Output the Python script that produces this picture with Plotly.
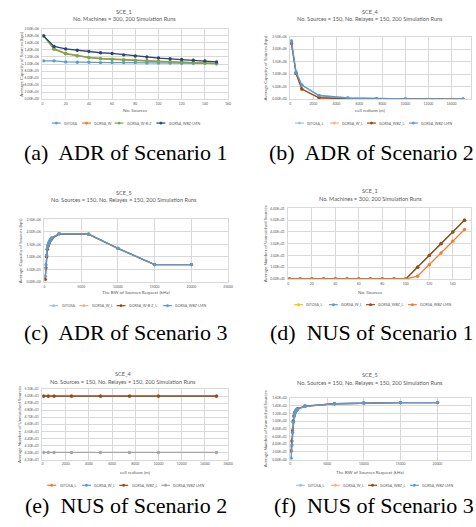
import plotly.graph_objects as go

W, H = 476, 527

# ---------------- data ----------------
# (a) SCE_1 – average capacity vs number of sources
a_x = [1, 10, 20, 30, 40, 50, 60, 70, 80, 90, 100, 110, 120, 130, 140, 150]
a_gitosa = [1.09e6, 1.09e6, 1.06e6, 1.05e6, 1.05e6, 1.04e6, 1.04e6, 1.04e6, 1.04e6, 1.03e6, 1.03e6, 1.03e6, 1.02e6, 1.02e6, 1.02e6, 1.01e6]
a_gorsa_w = [1.80e6, 1.43e6, 1.30e6, 1.24e6, 1.19e6, 1.16e6, 1.14e6, 1.12e6, 1.11e6, 1.10e6, 1.08e6, 1.07e6, 1.06e6, 1.05e6, 1.04e6, 1.02e6]
a_gorsa_wbz = [1.80e6, 1.42e6, 1.29e6, 1.23e6, 1.18e6, 1.15e6, 1.13e6, 1.11e6, 1.10e6, 1.09e6, 1.07e6, 1.06e6, 1.05e6, 1.04e6, 1.03e6, 1.01e6]
a_lmn = [1.80e6, 1.50e6, 1.43e6, 1.39e6, 1.36e6, 1.32e6, 1.30e6, 1.26e6, 1.23e6, 1.20e6, 1.17e6, 1.15e6, 1.13e6, 1.11e6, 1.09e6, 1.06e6]

# (b) SCE_4 – average capacity vs cell radius
b_x = [100, 500, 1000, 2500, 5000, 7500, 10000, 15000]
b_gitosa = [2.33e6, 1.08e6, 0.57e6, 0.15e6, 0.05e6, 0.02e6, 0.01e6, 0.0]
b_gorsa_w = [2.23e6, 1.03e6, 0.41e6, 0.06e6, 0.02e6, 0.01e6, 0.005e6, 0.0]
b_gorsa_wbz = [2.23e6, 1.03e6, 0.41e6, 0.06e6, 0.02e6, 0.01e6, 0.005e6, 0.0]
b_lmn = [2.33e6, 1.08e6, 0.57e6, 0.15e6, 0.05e6, 0.02e6, 0.01e6, 0.0]

# (c) SCE_5 – average capacity vs requested BW
c_x = [100, 200, 300, 400, 500, 600, 700, 800, 900, 1000, 2000, 6000, 10000, 15000, 20000]
c_gitosa = [0.22e6, 0.68e6, 1.07e6, 1.35e6, 1.48e6, 1.56e6, 1.63e6, 1.68e6, 1.72e6, 1.76e6, 1.93e6, 1.91e6, 1.34e6, 0.69e6, 0.69e6]
c_gorsa_w = [0.10e6, 0.56e6, 1.00e6, 1.30e6, 1.43e6, 1.52e6, 1.60e6, 1.65e6, 1.70e6, 1.73e6, 1.92e6, 1.91e6, 1.34e6, 0.69e6, 0.69e6]
c_gorsa_wbz = [0.10e6, 0.56e6, 1.00e6, 1.30e6, 1.43e6, 1.52e6, 1.60e6, 1.65e6, 1.70e6, 1.73e6, 1.92e6, 1.91e6, 1.34e6, 0.69e6, 0.69e6]
c_lmn = [0.22e6, 0.68e6, 1.07e6, 1.35e6, 1.48e6, 1.56e6, 1.63e6, 1.68e6, 1.72e6, 1.76e6, 1.93e6, 1.91e6, 1.34e6, 0.69e6, 0.69e6]

# (d) SCE_1 – unmatched sources vs number of sources
d_x = [1, 10, 20, 30, 40, 50, 60, 70, 80, 90, 100, 110, 120, 130, 140, 150]
d_gitosa = [0, 0, 0, 0, 0, 0, 0, 0, 0, 0, 0, 10, 20, 30, 40, 50]
d_gorsa_w = [0, 0, 0, 0, 0, 0, 0, 0, 0, 0, 0, 10, 20, 30, 40, 50]
d_gorsa_wbz = [0, 0, 0, 0, 0, 0, 0, 0, 0, 0, 0, 10, 20, 30, 40, 50]
d_lmn = [0, 0, 0, 0, 0, 0, 0, 0, 0, 0, 0, 2.3, 12, 22, 32, 42]

# (e) SCE_4 – unmatched sources vs cell radius
e_x = [100, 500, 1000, 2500, 5000, 7500, 10000, 15000]
e_gitosa = [50, 50, 50, 50, 50, 50, 50, 50]
e_gorsa_w = [50, 50, 50, 50, 50, 50, 50, 50]
e_gorsa_wbz = [50, 50, 50, 50, 50, 50, 50, 50]
e_lmn = [42, 42, 42, 42, 42, 42, 42, 42]

# (f) SCE_5 – unmatched sources vs requested BW
f_x = [100, 200, 300, 400, 500, 600, 700, 800, 900, 1000, 2000, 6000, 10000, 15000, 20000]
f_gitosa = [3, 37, 70, 97, 112, 119, 124, 127, 129, 131, 138, 145, 147, 148, 148]
f_gorsa_w = [22, 48, 75, 100, 114, 121, 125, 128, 130, 132, 139, 145, 147, 148, 148]
f_gorsa_wbz = [22, 48, 75, 100, 114, 121, 125, 128, 130, 132, 139, 145, 147, 148, 148]
f_lmn = [3, 37, 70, 97, 112, 119, 124, 127, 129, 131, 138, 145, 147, 148, 148]

# series names
a_names = ["GITOSA", "GORSA_W", "GORSA_W-B-Z", "GORSA_WBZ-LMN"]
b_names = ["GITOSA_L", "GORSA_W_L", "GORSA_WBZ_L", "GORSA_WBZ-LMN"]
c_names = ["GITOSA", "GORSA_W_L", "GORSA_W-B-Z_L", "GORSA_WBZ-LMN"]
d_names = ["GITOSA_L", "GORSA_W_L", "GORSA_WBZ_L", "GORSA_WBZ-LMN"]
e_names = ["GITOSA_L", "GORSA_W_L", "GORSA_WBZ_L", "GORSA_WBZ-LMN"]
f_names = ["GITOSA_L", "GORSA_W_L", "GORSA_WBZ_L", "GORSA_WBZ-LMN"]

# tick values / labels
a_xticks = [0, 20, 40, 60, 80, 100, 120, 140, 160]
a_yticks = [0, 2e5, 4e5, 6e5, 8e5, 1e6, 1.2e6, 1.4e6, 1.6e6, 1.8e6, 2e6]
a_ylabels = ["0.00E+00", "2.00E+05", "4.00E+05", "6.00E+05", "8.00E+05", "1.00E+06",
             "1.20E+06", "1.40E+06", "1.60E+06", "1.80E+06", "2.00E+06"]
b_xticks = [0, 2000, 4000, 6000, 8000, 10000, 12000, 14000, 16000]
bc_yticks = [0, 5e5, 1e6, 1.5e6, 2e6, 2.5e6]
bc_ylabels = ["0.00E+00", "5.00E+05", "1.00E+06", "1.50E+06", "2.00E+06", "2.50E+06"]
c_xticks = [0, 5000, 10000, 15000, 20000, 25000]
d_xticks = [0, 20, 40, 60, 80, 100, 120, 140, 160]
d_yticks = [0, 10, 20, 30, 40, 50, 60]
d_ylabels = ["0.00E+00", "1.00E+01", "2.00E+01", "3.00E+01", "4.00E+01", "5.00E+01", "6.00E+01"]
e_xticks = [0, 2000, 4000, 6000, 8000, 10000, 12000, 14000, 16000]
e_yticks = [41, 42, 43, 44, 45, 46, 47, 48, 49, 50, 51]
e_ylabels = ["4.10E+01", "4.20E+01", "4.30E+01", "4.40E+01", "4.50E+01", "4.60E+01",
             "4.70E+01", "4.80E+01", "4.90E+01", "5.00E+01", "5.10E+01"]
f_xticks = [0, 5000, 10000, 15000, 20000, 25000]
f_yticks = [0, 20, 40, 60, 80, 100, 120, 140, 160]
f_ylabels = ["0.00E+00", "2.00E+01", "4.00E+01", "6.00E+01", "8.00E+01", "1.00E+02",
             "1.20E+02", "1.40E+02", "1.60E+02"]

captions = ["(a)\u00a0 ADR of Scenario 1", "(b)\u00a0 ADR of Scenario 2",
            "(c)\u00a0 ADR of Scenario 3", "(d)\u00a0 NUS of Scenario 1",
            "(e)\u00a0 NUS of Scenario 2", "(f)\u00a0 NUS of Scenario 3"]

# ---------------- styling / layout ----------------
BLUE = "#5B9BD5"; ORANGE = "#ED7D31"; GREEN = "#70AD47"; NAVY = "#264478"
LBLUE = "#9DC3E6"; LORANGE = "#F4B183"; BROWN = "#9E480E"; GOLD = "#FFC000"; GRAY = "#A5A5A5"
TXT = "#595959"; GRID = "#D9D9D9"
FONT = "Lato"

panels = [
    dict(xs=[a_x] * 4, ys=[a_gitosa, a_gorsa_w, a_gorsa_wbz, a_lmn], names=a_names,
         colors=[BLUE, ORANGE, GREEN, NAVY],
         dx=(42, 230), dy=(27, 98), xr=[0, 160], xt=a_xticks, yr=[0, 2e6], yt=a_yticks, yl=a_ylabels,
         t1="SCE_1", t2="No. Machines = 300, 200 Simulation Runs", tcx=125, ty=(10, 17),
         xtitle="No. Sources", xty=109, ytitle="Average Capacity of Sources (bps)", ytx=20,
         legc=125, legy=122, capx=126, capy=152),
    dict(xs=[b_x] * 4, ys=[b_gitosa, b_gorsa_w, b_gorsa_wbz, b_lmn], names=b_names,
         colors=[LBLUE, LORANGE, BROWN, BLUE],
         dx=(293, 476), dy=(35, 98), xr=[0, 15700], xt=b_xticks, yr=[0, 2.5e6], yt=bc_yticks, yl=bc_ylabels,
         t1="SCE_4", t2="No. Sources = 150, No. Relayes = 150, 200 Simulation Runs", tcx=374, ty=(10, 17),
         xtitle="cell rediuos (m)", xty=109, ytitle="Average Capacity of Sources (bps)", ytx=268,
         legc=376, legy=122, capx=375, capy=152),
    dict(xs=[c_x] * 4, ys=[c_gitosa, c_gorsa_w, c_gorsa_wbz, c_lmn], names=c_names,
         colors=[LBLUE, LORANGE, BROWN, BLUE],
         dx=(44, 230), dy=(219, 282), xr=[0, 25000], xt=c_xticks, yr=[0, 2.5e6], yt=bc_yticks, yl=bc_ylabels,
         t1="SCE_5", t2="No. Sources = 150, No. Relayes = 150, 200 Simulation Runs", tcx=125, ty=(192, 199),
         xtitle="The BW of Sources Request (kHz)", xty=292, ytitle="Average Capacity of Sources (bps)", ytx=20,
         legc=127, legy=306, capx=126, capy=333),
    dict(xs=[d_x] * 4, ys=[d_gitosa, d_gorsa_w, d_gorsa_wbz, d_lmn], names=d_names,
         colors=[GOLD, BLUE, BROWN, ORANGE],
         dx=(291, 476), dy=(208, 279), xr=[0, 155.5], xt=d_xticks, yr=[0, 60], yt=d_yticks, yl=d_ylabels,
         t1="SCE_1", t2="No. Machines = 300, 200 Simulation Runs", tcx=374, ty=(190, 198),
         xtitle="No. Sources", xty=292, ytitle="Average Number of Unmatched Sources", ytx=268,
         legc=375, legy=305, capx=375, capy=333),
    dict(xs=[e_x] * 4, ys=[e_gitosa, e_gorsa_w, e_gorsa_wbz, e_lmn], names=e_names,
         colors=[ORANGE, BLUE, BROWN, GRAY],
         dx=(42, 230), dy=(390, 461), xr=[0, 16000], xt=e_xticks, yr=[41, 51], yt=e_yticks, yl=e_ylabels,
         t1="SCE_4", t2="No. Sources = 150, No. Relayes = 150, 200 Simulation Runs", tcx=124, ty=(374, 382),
         xtitle="cell rediuos (m)", xty=474, ytitle="Average Number of Unmatched Sources", ytx=19,
         legc=125, legy=487, capx=127, capy=507),
    dict(xs=[f_x] * 4, ys=[f_gitosa, f_gorsa_w, f_gorsa_wbz, f_lmn], names=f_names,
         colors=[LBLUE, LORANGE, BROWN, BLUE],
         dx=(293, 476), dy=(399, 461), xr=[0, 24570], xt=f_xticks, yr=[0, 160], yt=f_yticks, yl=f_ylabels,
         t1="SCE_5", t2="No. Sources = 150, No. Relayes = 150, 200 Simulation Runs", tcx=374, ty=(375, 383),
         xtitle="The BW of Sources Request (kHz)", xty=474, ytitle="Average Number of Unmatched Sources", ytx=268,
         legc=377, legy=487, capx=378, capy=507),
]


def px(p):
    return p / W


def py(p):
    return 1 - p / H


fig = go.Figure()
annotations = []
shapes = []
layout_axes = {}

for i, p in enumerate(panels, start=1):
    sx = "" if i == 1 else str(i)
    for xs, ys, name, col in zip(p["xs"], p["ys"], p["names"], p["colors"]):
        fig.add_trace(go.Scatter(
            x=xs, y=ys, name=name, mode="lines+markers", showlegend=False,
            xaxis="x" + sx, yaxis="y" + sx,
            line=dict(color=col, width=1.3),
            marker=dict(color=col, size=3.4, symbol="circle"),
        ))
    x0, x1 = p["dx"]
    y0, y1 = p["dy"]
    layout_axes["xaxis" + sx] = dict(
        domain=[px(x0), min(px(x1), 1.0)], range=p["xr"], anchor="y" + sx,
        tickmode="array", tickvals=p["xt"], tickformat="d", ticks="", showgrid=True,
        gridcolor=GRID, gridwidth=0.6,
        showline=True, linecolor=GRID, linewidth=0.6, mirror=True, zeroline=False,
        tickfont=dict(size=3.4, color=TXT, family=FONT), ticklabelstandoff=1,
    )
    layout_axes["yaxis" + sx] = dict(
        domain=[py(y1), py(y0)], range=p["yr"], anchor="x" + sx,
        tickmode="array", tickvals=p["yt"], ticktext=p["yl"], ticks="", showgrid=True,
        gridcolor=GRID, gridwidth=0.6, showline=True, linecolor=GRID, linewidth=0.6, mirror=True,
        zeroline=False, tickfont=dict(size=3.4, color=TXT, family=FONT), ticklabelstandoff=2,
    )
    # chart titles
    for txt, yy in ((p["t1"], p["ty"][0]), (p["t2"], p["ty"][1])):
        annotations.append(dict(x=px(p["tcx"]), y=py(yy), xref="paper", yref="paper",
                                text=txt, showarrow=False, xanchor="center", yanchor="middle",
                                font=dict(size=5.6, color=TXT, family=FONT)))
    # axis titles
    annotations.append(dict(x=px((x0 + x1) / 2) if x1 < 476 else px(p["tcx"]),
                            y=py(p["xty"]), xref="paper", yref="paper",
                            text=p["xtitle"], showarrow=False, xanchor="center", yanchor="middle",
                            font=dict(size=4.6, color=TXT, family=FONT)))
    annotations.append(dict(x=px(p["ytx"]), y=py((y0 + y1) / 2), xref="paper", yref="paper",
                            text=p["ytitle"], showarrow=False, textangle=-90, xanchor="center",
                            yanchor="middle", font=dict(size=4.4, color=TXT, family=FONT)))
    # legend (drawn manually, Excel style)
    cw = 2.35
    widths = [10.5 + cw * len(n) + 6 for n in p["names"]]
    lx = p["legc"] - (sum(widths) - 6) / 2
    for n, col, wdt in zip(p["names"], p["colors"], widths):
        shapes.append(dict(type="line", xref="paper", yref="paper",
                           x0=px(lx), x1=px(lx + 9), y0=py(p["legy"]), y1=py(p["legy"]),
                           line=dict(color=col, width=1.2)))
        shapes.append(dict(type="circle", xref="paper", yref="paper",
                           x0=px(lx + 3.3), x1=px(lx + 5.7), y0=py(p["legy"] + 1.2), y1=py(p["legy"] - 1.2),
                           line=dict(color=col, width=0.5), fillcolor=col))
        annotations.append(dict(x=px(lx + 10.5), y=py(p["legy"]), xref="paper", yref="paper",
                                text=n, showarrow=False, xanchor="left", yanchor="middle",
                                font=dict(size=3.6, color=TXT, family=FONT)))
        lx += wdt
    # caption
    annotations.append(dict(x=px(p["capx"]), y=py(p["capy"]), xref="paper", yref="paper",
                            text=captions[i - 1], showarrow=False, xanchor="center", yanchor="middle",
                            font=dict(size=22, color="#000000", family="Liberation Serif")))

fig.update_layout(
    width=W, height=H, margin=dict(l=0, r=0, t=0, b=0),
    paper_bgcolor="white", plot_bgcolor="white",
    annotations=annotations, shapes=shapes, showlegend=False,
    **layout_axes,
)

fig.write_html("out.html", config={"displayModeBar": False},
               post_script="document.body.style.margin='0';document.body.style.overflow='hidden';")
